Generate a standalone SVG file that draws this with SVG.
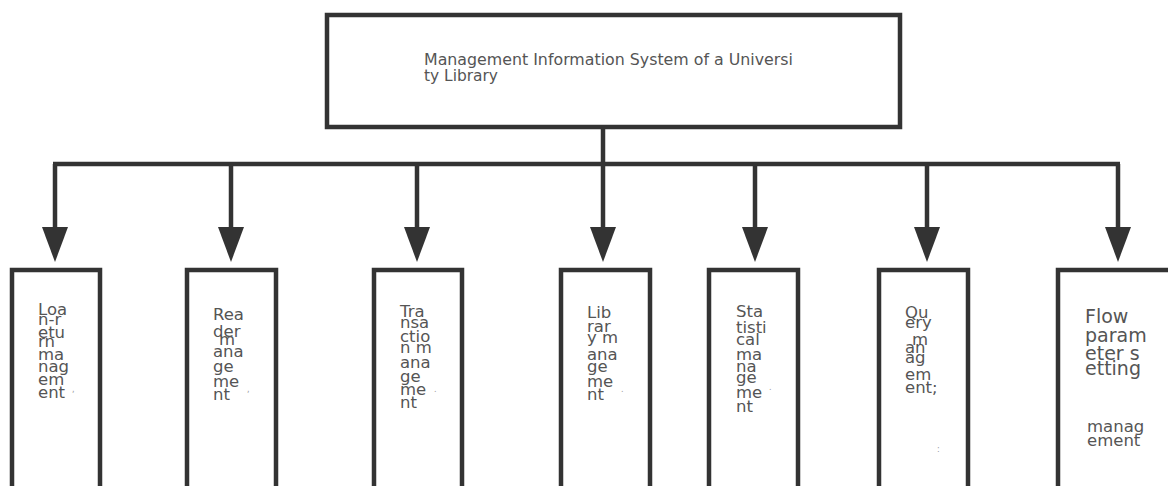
<svg xmlns="http://www.w3.org/2000/svg" width="1168" height="486" viewBox="0 0 1168 486">
<style>
.box{fill:#fff;stroke:#333;stroke-width:4.5}
.ln{fill:none;stroke:#333;stroke-width:4.5}
.t{font-family:"DejaVu Sans",sans-serif;font-size:16.5px;fill:#555}
.tt{font-family:"DejaVu Sans",sans-serif;font-size:15px;fill:#555}
.big{font-family:"DejaVu Sans",sans-serif;font-size:19px;fill:#555}
.sm{font-family:"DejaVu Sans",sans-serif;font-size:16.5px;fill:#555}
.dot{font-family:"DejaVu Sans",sans-serif;font-size:8px;fill:#999}
</style>
<defs>
<marker id="ah" viewBox="0 -13 35 26" refX="0" refY="0" markerWidth="35" markerHeight="26" markerUnits="userSpaceOnUse" orient="auto">
<path d="M0,-13 L35,0 L0,13 z" fill="#333"/>
</marker>
</defs>
<rect width="1168" height="486" fill="#fff"/>
<g id="connectors">
<line class="ln" x1="603" y1="127" x2="603" y2="164"/>
<line class="ln" x1="53" y1="164" x2="1120" y2="164"/>
<line class="ln" x1="55" y1="164" x2="55" y2="227" marker-end="url(#ah)"/>
<line class="ln" x1="231" y1="164" x2="231" y2="227" marker-end="url(#ah)"/>
<line class="ln" x1="417" y1="164" x2="417" y2="227" marker-end="url(#ah)"/>
<line class="ln" x1="603" y1="164" x2="603" y2="227" marker-end="url(#ah)"/>
<line class="ln" x1="755" y1="164" x2="755" y2="227" marker-end="url(#ah)"/>
<line class="ln" x1="927" y1="164" x2="927" y2="227" marker-end="url(#ah)"/>
<line class="ln" x1="1118" y1="164" x2="1118" y2="227" marker-end="url(#ah)"/>
</g>
<g id="root">
<rect class="box" x="327" y="15" width="573" height="112"/>
<text class="tt" x="424" y="65" textLength="369" lengthAdjust="spacingAndGlyphs">Management Information System of a Universi</text>
<text class="tt" x="424" y="81" textLength="74" lengthAdjust="spacingAndGlyphs">ty Library</text>
</g>
<g id="n1">
<rect class="box" x="12" y="270" width="88" height="230"/>
<text class="t"><tspan x="38" y="315">Loa</tspan><tspan x="38" y="325">n-r</tspan><tspan x="38" y="338">etu</tspan><tspan x="38" y="347">rn</tspan><tspan x="38" y="360">ma</tspan><tspan x="38" y="372">nag</tspan><tspan x="38" y="385">em</tspan><tspan x="38" y="398">ent</tspan></text>
<text class="dot" x="72" y="392">,</text>
</g>
<g id="n2">
<rect class="box" x="187" y="270" width="89" height="230"/>
<text class="t"><tspan x="213" y="320">Rea</tspan><tspan x="213" y="337">der</tspan><tspan x="219" y="345">m</tspan><tspan x="213" y="357">ana</tspan><tspan x="213" y="372">ge</tspan><tspan x="213" y="387">me</tspan><tspan x="213" y="400">nt</tspan></text>
<text class="dot" x="247" y="392">,</text>
</g>
<g id="n3">
<rect class="box" x="374" y="270" width="88" height="230"/>
<text class="t"><tspan x="400" y="317">Tra</tspan><tspan x="400" y="328">nsa</tspan><tspan x="400" y="342">ctio</tspan><tspan x="400" y="353">n m</tspan><tspan x="400" y="368">ana</tspan><tspan x="400" y="382">ge</tspan><tspan x="400" y="395">me</tspan><tspan x="400" y="408">nt</tspan></text>
<text class="dot" x="434" y="392">.</text>
</g>
<g id="n4">
<rect class="box" x="561" y="270" width="89" height="230"/>
<text class="t"><tspan x="587" y="318">Lib</tspan><tspan x="587" y="332">rar</tspan><tspan x="587" y="343">y m</tspan><tspan x="587" y="360">ana</tspan><tspan x="587" y="372">ge</tspan><tspan x="587" y="387">me</tspan><tspan x="587" y="400">nt</tspan></text>
<text class="dot" x="621" y="392">.</text>
</g>
<g id="n5">
<rect class="box" x="709" y="270" width="89" height="230"/>
<text class="t"><tspan x="736" y="317">Sta</tspan><tspan x="736" y="333">tisti</tspan><tspan x="736" y="345">cal</tspan><tspan x="736" y="360">ma</tspan><tspan x="736" y="372">na</tspan><tspan x="736" y="383">ge</tspan><tspan x="736" y="398">me</tspan><tspan x="736" y="412">nt</tspan></text>
<text class="dot" x="769" y="390">.</text>
</g>
<g id="n6">
<rect class="box" x="879" y="270" width="89" height="230"/>
<text class="t"><tspan x="905" y="318">Qu</tspan><tspan x="905" y="328">ery</tspan><tspan x="912" y="345">m</tspan><tspan x="905" y="353">an</tspan><tspan x="905" y="363">ag</tspan><tspan x="905" y="380">em</tspan><tspan x="905" y="393">ent;</tspan></text>
<text class="dot" x="937" y="452">:</text>
</g>
<g id="n7">
<rect class="box" x="1058" y="270" width="116" height="230"/>
<text class="big"><tspan x="1085" y="323">Flow</tspan><tspan x="1085" y="342">param</tspan><tspan x="1085" y="360">eter s</tspan><tspan x="1085" y="375">etting</tspan></text>
<text class="sm"><tspan x="1087" y="432">manag</tspan><tspan x="1087" y="446">ement</tspan></text>
</g>
</svg>
